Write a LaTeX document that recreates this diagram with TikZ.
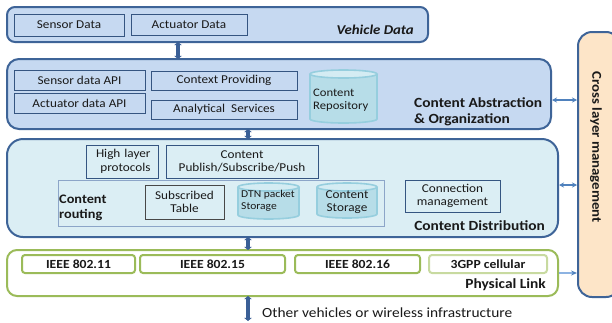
\documentclass[tikz,border=0pt]{standalone}
\usepackage{fontspec}
\setmainfont[FakeStretch=1.1]{Carlito}
\usetikzlibrary{arrows.meta}

\definecolor{edgeblue}{RGB}{62,100,152}
\definecolor{layerblue}{RGB}{198,217,241}
\definecolor{distcyan}{RGB}{219,238,244}
\definecolor{cylfill}{RGB}{183,221,232}
\definecolor{cyledge}{RGB}{150,206,222}
\definecolor{cyltop}{RGB}{212,236,243}
\definecolor{linkgreen}{RGB}{155,187,89}
\definecolor{palegreen}{RGB}{200,218,160}
\definecolor{peach}{RGB}{253,229,200}
\definecolor{arrowblue}{RGB}{58,95,150}
\definecolor{sideblue}{RGB}{79,129,189}
\definecolor{lightside}{RGB}{141,179,226}
\definecolor{ink}{RGB}{25,25,25}
\definecolor{routeedge}{RGB}{140,165,200}

% cylinder outline between (x1,y1) and (x2,y2)
\newcommand\drum[4]{%
  \pgfmathsetmacro\drx{(#3-#1)/2}%
  \pgfmathsetmacro\drc{(#1+#3)/2}%
  \fill[cylfill] (#1,#2+4) -- (#1,#4-4) arc[start angle=180,end angle=0,x radius=\drx,y radius=4] -- (#3,#2+4) -- cycle;
  \draw[cyledge,line width=1.6pt] (#1,#2+4) -- (#1,#4-4) arc[start angle=180,end angle=0,x radius=\drx,y radius=4] -- (#3,#2+4);
  \draw[cyledge,line width=1.6pt,fill=cyltop] (\drc,#2+4) ellipse[x radius=\drx,y radius=4];
}

\tikzset{
  layer/.style={draw=edgeblue,line width=2pt,inner sep=0pt,minimum width=#1},
  sub/.style={draw=edgeblue!85!black,line width=0.8pt,inner sep=0pt,align=center,
    text=ink,font=\fontsize{12}{13.5}\selectfont},
  radio/.style={draw=linkgreen,line width=2pt,rounded corners=3pt,fill=white,inner sep=0pt,
    text=ink,font=\bfseries\fontsize{12.4}{14}\selectfont},
  heading/.style={text=ink,font=\bfseries\fontsize{14}{15.5}\selectfont,inner sep=0pt},
  layerarrow/.style={draw=arrowblue,line width=3.2pt,shorten <=-1pt,shorten >=-1pt,
    {Triangle[length=3.2pt,width=7.5pt]}-{Triangle[length=3.2pt,width=7.5pt]}},
  sidearrow/.style={draw=sideblue,line width=1.2pt,
    {Stealth[length=5pt,width=5pt]}-{Stealth[length=5pt,width=5pt]}},
  cyltext/.style={text=ink,inner sep=0pt,align=left,font=\fontsize{11.5}{13}\selectfont}
}

\begin{document}
\begin{tikzpicture}[x=1pt,y=-1pt]
\useasboundingbox (0,0) rectangle (612,322);
\fill[white] (0,0) rectangle (612,322);

% ---- Vehicle data layer
\node[layer=421pt,minimum height=35pt,fill=layerblue,rounded corners=8pt] (veh) at (217.5,24.5) {};
\node[sub,minimum width=110pt,minimum height=22pt,fill=layerblue] (sens) at (69,25) {Sensor Data};
\node[sub,minimum width=116pt,minimum height=21pt,fill=layerblue] (act) at (189,24.5) {Actuator Data};
\node[heading,font=\bfseries\itshape\fontsize{13.5}{15}\selectfont,anchor=east] (vehlbl) at (414,30) {Vehicle Data};

% ---- Content abstraction & organization layer
\node[layer=544pt,minimum height=70pt,fill=layerblue,rounded corners=12pt] (cao) at (279,94) {};
\node[sub,minimum width=131pt,minimum height=20pt] (sapi) at (79.5,80) {Sensor data API};
\node[sub,minimum width=131pt,minimum height=20pt] (aapi) at (79.5,103) {Actuator data API};
\node[sub,minimum width=146pt,minimum height=19pt] (ctx) at (224,80.5) {Context Providing};
\node[sub,minimum width=146pt,minimum height=19pt] (ana) at (224,109.5) {Analytical\ \ Services};
\drum{310}{70}{377}{123}
\node[cyltext,anchor=west] (repo) at (313,100) {Content\\Repository};
\node[heading,align=left,anchor=west] (caolbl) at (414,112) {Content Abstraction\\\& Organization};

% ---- Content distribution layer
\node[layer=551pt,minimum height=98pt,fill=distcyan,rounded corners=16pt] (cd) at (282.5,188) {};
\node[sub,minimum width=326pt,minimum height=46pt,draw=routeedge,line width=0.8pt] (route) at (221,203) {};
\node[sub,minimum width=72pt,minimum height=33pt,text width=57pt,align=right] (hlp) at (122,161.5) {High layer\\protocols};
\node[sub,minimum width=152pt,minimum height=33pt] (pub) at (242,161.5) {Content\\Publish/Subscribe/Push};
\node[heading,align=left,anchor=west,font=\bfseries\fontsize{13}{15}\selectfont] (routelbl) at (59,208) {Content\\routing};
\node[sub,minimum width=79pt,minimum height=34pt,draw=ink!80,line width=1pt] (subt) at (184.5,202) {Subscribed\\Table};
\drum{238}{183}{299}{219}
\node[cyltext,anchor=west,font=\fontsize{10.5}{12}\selectfont] (dtn) at (241,200.5) {DTN packet\\Storage};
\drum{317}{183}{377}{218}
\node[cyltext,align=center,font=\fontsize{12}{13.5}\selectfont] (cstore) at (347,202) {Content\\Storage};
\node[sub,minimum width=95pt,minimum height=32pt] (conn) at (452.5,196) {Connection\\management};
\node[heading,anchor=east] (cdlbl) at (545,226) {Content Distribution};

% ---- Physical link layer
\node[layer=551pt,minimum height=46pt,draw=linkgreen,fill=white,rounded corners=10pt] (pl) at (282.5,273) {};
\node[radio,minimum width=113pt,minimum height=18pt] (w11) at (78.5,264) {IEEE 802.11};
\node[radio,minimum width=145pt,minimum height=18pt] (w15) at (212.5,264) {IEEE 802.15};
\node[radio,minimum width=125pt,minimum height=18pt] (w16) at (357.5,264) {IEEE 802.16};
\node[radio,minimum width=118pt,minimum height=18pt,draw=palegreen] (gpp) at (488,264) {3GPP cellular};
\node[heading,anchor=east] (pllbl) at (546,285) {Physical Link};

% ---- Cross layer management
\node[layer=42pt,minimum height=265pt,fill=peach,rounded corners=14pt] (cross) at (599,164.5) {};
\node[heading,rotate=-90,font=\bfseries\fontsize{13.5}{15}\selectfont] (crosslbl) at (596,147) {Cross layer management};

% ---- Links between layers
\coordinate (ax1) at (178,0);
\coordinate (ax2) at (248,0);
\coordinate (outside) at (248,321);
\draw[layerarrow] (veh.south -| ax1) -- (cao.north -| ax1);
\draw[layerarrow] (cao.south -| ax2) -- (cd.north -| ax2);
\draw[layerarrow] (cd.south -| ax2) -- (pl.north -| ax2);
\draw[layerarrow,shorten >=0pt] (pl.south -| ax2) -- (outside);
\node[anchor=west,text=ink,inner sep=0pt,font=\fontsize{14}{15.5}\selectfont] (otherlbl) at (262,313) {Other vehicles or wireless infrastructure};

% ---- Links to cross layer management
\coordinate (sy1) at (0,100);
\coordinate (sy2) at (0,185);
\coordinate (sy3) at (0,273);
\draw[sidearrow] (cao.east |- sy1) -- (cross.west |- sy1);
\draw[sidearrow] (cd.east |- sy2) -- (cross.west |- sy2);
\draw[draw=lightside,line width=1.2pt,-{Stealth[length=6pt,width=5pt,color=sideblue]}] (pl.east |- sy3) -- (cross.west |- sy3);
\end{tikzpicture}
\end{document}
